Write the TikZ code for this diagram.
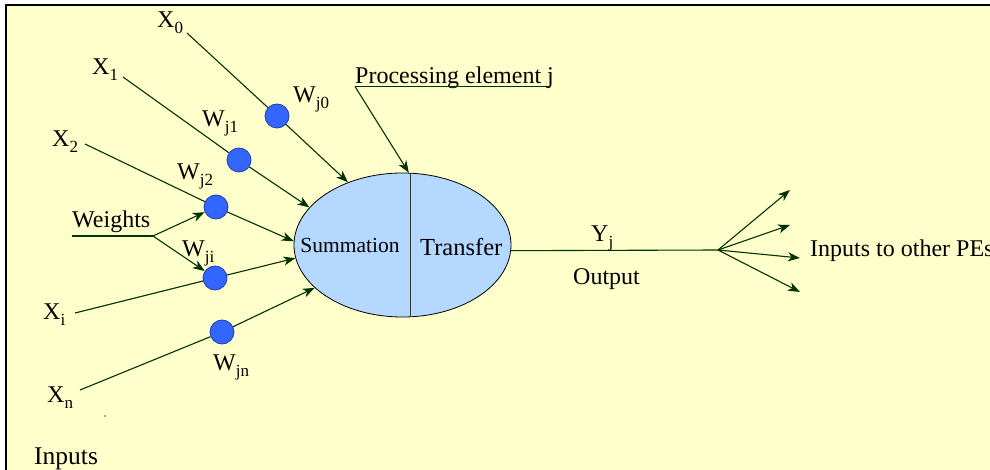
\documentclass[tikz,border=0pt]{standalone}
\usepackage{fontspec}
\setmainfont{Liberation Serif}
\usetikzlibrary{shapes.geometric,arrows.meta}

\definecolor{paper}{RGB}{255,255,204}
\definecolor{wire}{RGB}{0,51,0}
\definecolor{peblue}{RGB}{180,216,255}
\definecolor{dotblue}{RGB}{51,102,255}
\definecolor{dotedge}{RGB}{30,60,170}

% letter with a lowered, smaller index
\newcommand\sublabel[2]{#1\raisebox{-6pt}{\fontsize{17}{17}\selectfont #2}}

\tikzset{
  txt/.style={font=\fontsize{24}{28}\selectfont, inner sep=0pt, anchor=base west},
  wdot/.style={circle, fill=dotblue, draw=dotedge, line width=0.8pt,
               minimum size=24pt, inner sep=0pt},
  wireline/.style={draw=wire, line width=1.1pt},
  arr/.style={wireline, -{Stealth[length=12pt,width=9pt,inset=3.5pt]}},
}

\begin{document}
\begin{tikzpicture}[x=1pt,y=-1pt]
  \useasboundingbox (0,0) rectangle (990,470);
  % sheet and its frame
  \fill[paper] (6,5) rectangle (990,470);
  \draw[line width=2pt] (6,470) -- (6,5) -- (990,5);

  % processing element
  \node[ellipse, draw, fill=peblue, line width=0.8pt,
        minimum width=217pt, minimum height=144pt, inner sep=0pt]
        (pe) at (402.5,245) {};
  \coordinate (divtop) at (410,173.2);
  \coordinate (divbot) at (410,316.8);
  \draw[line width=0.8pt, draw=black!80] (divtop) -- (divbot);
  \node[font=\fontsize{21.5}{25}\selectfont, inner sep=0pt, anchor=base]
        (sum) at (350,253) {Summation};
  \node[font=\fontsize{24.5}{28}\selectfont, inner sep=0pt, anchor=base west]
        (tr) at (420,256) {Transfer};

  % inputs
  \node[txt] (x0) at (157,28) {\sublabel{X}{0}};
  \node[txt] (x1) at (92,75) {\sublabel{X}{1}};
  \node[txt] (x2) at (52,147) {\sublabel{X}{2}};
  \node[txt] (xi) at (43,319) {\sublabel{X}{i}};
  \node[txt] (xn) at (47,402) {\sublabel{X}{n}};
  \node[txt, font=\fontsize{25.5}{29}\selectfont] (inp) at (34,464) {Inputs};

  \coordinate (s0) at (187,33);
  \coordinate (s1) at (123,77);
  \coordinate (s2) at (85,144);
  \coordinate (si) at (75,313);
  \coordinate (sn) at (80,390);

  % weights
  \node[wdot] (d0) at (277,116) {};
  \node[wdot] (d1) at (239,160) {};
  \node[wdot] (d2) at (216,207) {};
  \node[wdot] (di) at (215,278) {};
  \node[wdot] (dn) at (222,332) {};

  \node[txt] (w0) at (293,103) {\sublabel{W}{j0}};
  \node[txt] (w1) at (202,127) {\sublabel{W}{j1}};
  \node[txt] (w2) at (177,180) {\sublabel{W}{j2}};
  \node[txt] (wi) at (182,257) {\sublabel{W}{ji}};
  \node[txt] (wn) at (213,370) {\sublabel{W}{jn}};

  % input wires through the weights into the summation
  \draw[wireline] (s0) -- (d0);
  \draw[wireline] (s1) -- (d1);
  \draw[wireline] (s2) -- (d2);
  \draw[wireline] (si) -- (di);
  \draw[wireline] (sn) -- (dn);
  \draw[arr] (d0) -- (pe.131.5);
  \draw[arr] (d1) -- (pe.158.8);
  \draw[arr] (d2) -- (pe.178);
  \draw[arr] (di) -- (pe.187);
  \draw[arr] (dn) -- (pe.206.4);

  % weights callout
  \node[txt] (wt) at (72,228) {Weights};
  \coordinate (wl) at (72,236);
  \coordinate (wr) at (153,236);
  \draw[wireline] (wl) -- (wr);
  \draw[arr] (wr) -- (d2);
  \draw[arr] (wr) -- (di);

  % processing element callout
  \node[txt] (pel) at (355,84) {Processing element j};
  \coordinate (pl) at (355,86.5);
  \coordinate (pr) at (549,86.5);
  \draw[wireline] (pl) -- (pr);
  \draw[arr] (pl) -- (pe.85);

  % output
  \coordinate (fan) at (718,250);
  \draw[wireline] (pe.-3) -- (fan);
  \node[txt] (yj) at (591,242) {\sublabel{Y}{j}};
  \node[txt] (out) at (573,284) {Output};
  \coordinate (o1) at (790,190);
  \coordinate (o2) at (790,225);
  \coordinate (o3) at (800,258);
  \coordinate (o4) at (800,292);
  \draw[arr] (fan) -- (o1);
  \draw[arr] (fan) -- (o2);
  \draw[arr] (fan) -- (o3);
  \draw[arr] (fan) -- (o4);
  \node[txt] (pes) at (810,257) {Inputs to other PEs};

  % stray speck
  \fill[black!70] (105,416) circle (0.8);
\end{tikzpicture}
\end{document}
